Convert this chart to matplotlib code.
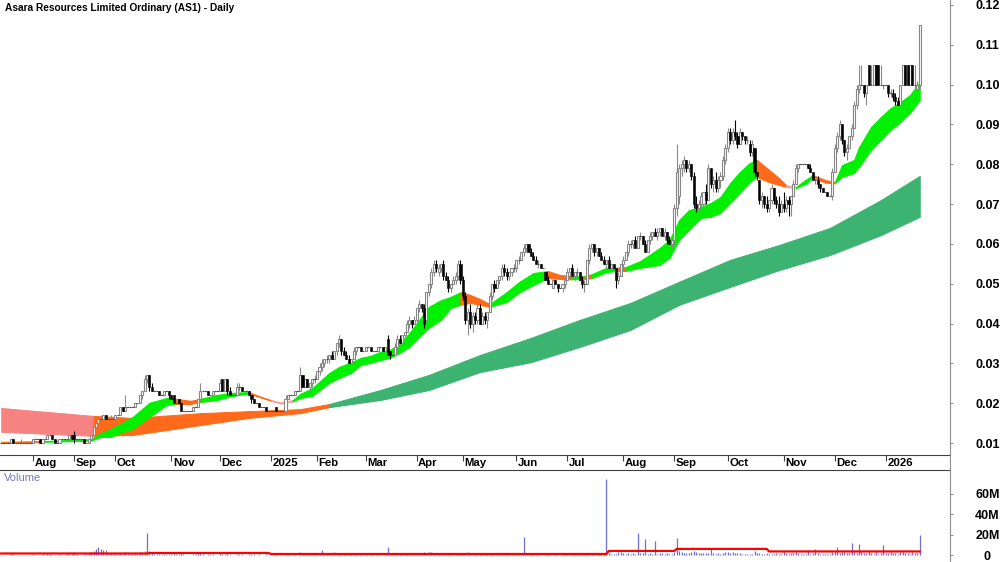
import numpy as np
import matplotlib.pyplot as plt
from matplotlib.lines import Line2D
from matplotlib.transforms import blended_transform_factory

plt.rcParams['font.family'] = ['Liberation Sans', 'DejaVu Sans']

# bars shown per month (first and last month are partial)
bars_per_month = [13, 17, 17, 23, 20, 21, 19, 20, 21, 19, 22, 21, 23, 21, 22, 23, 21, 21, 15]
month_labels = ['Aug', 'Sep', 'Oct', 'Nov', 'Dec', '2025', 'Feb', 'Mar', 'Apr', 'May', 'Jun',
                'Jul', 'Aug', 'Sep', 'Oct', 'Nov', 'Dec', '2026']

# daily prices in tenths of a cent (0.001 $)
opens = [
    10, 10, 10, 10, 10, 11, 10, 10, 10, 10, 10, 10, 10,                                      # Jul 24
    10, 11, 11, 11, 10, 11, 11, 12, 12, 11, 10, 10, 11, 11, 11, 11, 12,                      # Aug
    12, 11, 11, 11, 11, 10, 10, 11, 12, 14, 15, 16, 16, 17, 16, 16, 16,                      # Sep
    16, 17, 17, 19, 18, 19, 19, 19, 19, 20, 20, 22, 23, 26, 27, 24, 23, 23, 23, 22, 22, 23, 23,  # Oct
    22, 22, 20, 21, 20, 18, 18, 18, 18, 18, 19, 19, 21, 23, 23, 23, 22, 22, 23, 23,          # Nov
    23, 26, 23, 26, 23, 22, 22, 22, 24, 24, 23, 23, 23, 22, 21, 20, 20, 19, 19, 19, 18,      # Dec
    18, 18, 19, 18, 18, 18, 18, 21, 22, 22, 22, 23, 23, 27, 24, 26, 24, 25, 26,              # Jan 25
    26, 28, 29, 30, 31, 31, 32, 31, 33, 35, 36, 33, 32, 31, 30, 31, 33, 34, 34, 33,          # Feb
    33, 34, 34, 33, 33, 33, 34, 34, 33, 36, 33, 32, 32, 34, 36, 35, 37, 38, 40, 41, 40,      # Mar
    41, 44, 45, 44, 41, 48, 50, 53, 55, 53, 54, 55, 52, 51, 49, 50, 51, 52, 55,              # Apr
    51, 47, 41, 43, 40, 42, 41, 44, 40, 42, 41, 43, 47, 50, 49, 51, 52, 54, 53, 52, 53, 54,  # May
    54, 56, 56, 58, 59, 60, 58, 57, 56, 55, 55, 54, 53, 51, 50, 49, 51, 50, 49, 49, 50,      # Jun
    51, 53, 54, 52, 53, 53, 51, 50, 50, 56, 59, 60, 58, 59, 57, 56, 55, 56, 54, 55, 54, 51, 52,  # Jul
    55, 56, 58, 60, 60, 61, 59, 62, 62, 60, 58, 61, 62, 63, 62, 63, 64, 62, 63, 61, 60,      # Aug
    61, 69, 72, 79, 80, 81, 79, 80, 77, 70, 69, 70, 70, 73, 71, 79, 75, 76, 74, 76, 77, 81,  # Sep
    84, 88, 86, 88, 87, 85, 88, 87, 86, 85, 83, 84, 78, 76, 71, 72, 70, 69, 71, 74, 71, 70, 68,  # Oct
    70, 69, 71, 70, 72, 75, 79, 80, 80, 80, 80, 79, 78, 76, 76, 75, 74, 73, 73, 72, 72,      # Nov
    78, 84, 87, 90, 86, 83, 84, 87, 89, 95, 99, 100, 100, 98, 105, 100, 100, 105, 105, 100, 100,  # Dec
    100, 100, 98, 98, 97, 96, 95, 100, 105, 105, 100, 105, 100, 99, 100,                     # Jan 26
]
highs = [
    10, 10, 10, 10, 11, 11, 10, 10, 11, 10, 10, 10, 10,
    11, 11, 11, 11, 11, 11, 12, 12, 12, 11, 10, 11, 11, 11, 11, 12, 12,
    13, 11, 11, 11, 11, 10, 11, 12, 14, 15, 16, 17, 17, 17, 16, 17, 16,
    17, 17, 19, 19, 22, 19, 19, 19, 20, 20, 22, 23, 27, 27, 27, 25, 23, 23, 23, 22, 23, 23, 23,
    22, 22, 20, 21, 20, 18, 18, 18, 18, 19, 19, 21, 25, 23, 23, 23, 22, 23, 23, 23,
    26, 26, 26, 26, 24, 22, 22, 25, 25, 24, 23, 23, 23, 22, 21, 20, 20, 19, 19, 19, 18,
    18, 18, 19, 18, 18, 18, 22, 22, 22, 22, 23, 23, 29, 27, 26, 26, 25, 26, 27,
    28, 30, 31, 31, 32, 32, 33, 33, 35, 37, 36, 34, 33, 32, 31, 34, 34, 34, 34, 33,
    34, 34, 34, 33, 33, 34, 34, 34, 34, 37, 33, 32, 35, 37, 37, 37, 38, 41, 42, 41, 42,
    44, 46, 45, 45, 48, 50, 54, 56, 56, 55, 55, 56, 53, 52, 50, 52, 53, 56, 56,
    52, 48, 44, 45, 43, 43, 45, 45, 43, 43, 43, 48, 50, 51, 51, 52, 55, 55, 54, 53, 54, 55,
    56, 57, 58, 60, 60, 60, 59, 58, 57, 56, 55, 54, 53, 52, 50, 51, 51, 50, 49, 50, 51,
    54, 54, 55, 53, 54, 53, 52, 51, 56, 60, 60, 60, 59, 59, 58, 57, 56, 57, 55, 55, 54, 53, 55,
    57, 58, 61, 61, 61, 62, 62, 63, 62, 61, 61, 63, 63, 64, 64, 64, 64, 64, 63, 62, 61,
    70, 85, 80, 81, 82, 81, 81, 80, 78, 72, 71, 73, 73, 75, 80, 79, 77, 78, 77, 78, 82, 85,
    89, 89, 89, 91, 88, 89, 88, 87, 87, 86, 86, 84, 78, 76, 73, 72, 72, 71, 75, 74, 72, 72, 71,
    73, 72, 72, 72, 76, 80, 80, 80, 80, 80, 80, 80, 78, 77, 77, 75, 74, 73, 73, 72, 79,
    85, 88, 91, 90, 86, 85, 87, 90, 96, 100, 105, 105, 100, 100, 105, 105, 105, 105, 105, 105, 100,
    100, 100, 99, 99, 98, 97, 100, 105, 105, 105, 105, 105, 105, 101, 115,
]
lows = [
    10, 10, 10, 10, 10, 10, 10, 10, 10, 10, 10, 10, 10,
    10, 11, 11, 10, 10, 11, 11, 12, 11, 10, 10, 10, 11, 11, 11, 11, 11,
    10, 11, 11, 11, 10, 10, 10, 11, 12, 14, 15, 16, 16, 16, 16, 16, 16,
    16, 17, 17, 18, 18, 19, 19, 19, 19, 20, 20, 21, 23, 25, 23, 23, 23, 23, 22, 22, 22, 23, 21,
    21, 20, 20, 20, 18, 18, 18, 18, 18, 18, 19, 19, 21, 23, 23, 22, 22, 22, 23, 23,
    23, 23, 23, 22, 22, 22, 22, 22, 23, 23, 23, 23, 22, 20, 20, 20, 19, 19, 19, 18, 18,
    18, 18, 18, 18, 18, 18, 18, 21, 22, 22, 22, 23, 23, 24, 24, 24, 23, 24, 25,
    26, 27, 28, 29, 30, 30, 31, 31, 32, 34, 32, 32, 31, 30, 30, 31, 32, 34, 33, 33,
    33, 34, 33, 33, 33, 33, 34, 33, 33, 32, 31, 32, 32, 34, 35, 35, 36, 38, 39, 39, 40,
    40, 43, 43, 39, 41, 47, 49, 52, 53, 52, 53, 51, 51, 48, 48, 50, 50, 51, 50,
    46, 40, 37, 39, 38, 40, 40, 40, 40, 40, 39, 43, 46, 48, 49, 50, 51, 52, 51, 51, 52, 53,
    53, 55, 56, 57, 58, 58, 57, 56, 55, 54, 54, 54, 51, 50, 50, 49, 50, 48, 49, 48, 49,
    51, 52, 52, 51, 52, 51, 49, 48, 50, 55, 58, 57, 57, 57, 56, 55, 54, 54, 53, 54, 49, 50, 52,
    54, 56, 57, 59, 59, 59, 59, 61, 60, 58, 58, 60, 61, 62, 61, 62, 62, 61, 60, 60, 59,
    60, 67, 70, 77, 78, 78, 78, 76, 69, 68, 67, 69, 67, 70, 71, 74, 73, 73, 73, 74, 76, 80,
    83, 85, 85, 86, 84, 85, 86, 85, 85, 82, 82, 77, 76, 70, 69, 69, 68, 68, 70, 70, 69, 67, 68,
    68, 68, 67, 67, 72, 75, 78, 80, 80, 80, 79, 78, 76, 75, 74, 73, 73, 73, 72, 72, 71,
    78, 83, 86, 85, 82, 81, 84, 86, 89, 94, 98, 100, 97, 95, 100, 100, 100, 100, 100, 100, 99,
    100, 97, 97, 96, 95, 95, 95, 100, 100, 100, 100, 100, 99, 98, 99,
]
closes = [
    10, 10, 10, 10, 11, 10, 10, 10, 10, 10, 10, 10, 10,
    11, 11, 11, 10, 11, 11, 12, 12, 11, 10, 10, 11, 11, 11, 11, 12, 11,
    11, 11, 11, 11, 10, 10, 11, 12, 14, 15, 16, 16, 17, 16, 16, 16, 16,
    17, 17, 19, 18, 19, 19, 19, 19, 20, 20, 22, 23, 26, 27, 24, 23, 23, 23, 22, 22, 23, 23, 22,
    21, 20, 20, 20, 18, 18, 18, 18, 18, 19, 19, 21, 23, 23, 23, 22, 22, 23, 23, 23,
    25, 23, 26, 23, 22, 22, 22, 24, 24, 23, 23, 23, 22, 21, 20, 20, 19, 19, 19, 18, 18,
    18, 18, 18, 18, 18, 18, 21, 22, 22, 22, 23, 23, 27, 24, 26, 24, 25, 26, 26,
    28, 29, 30, 31, 31, 32, 31, 33, 35, 36, 33, 32, 31, 30, 31, 33, 34, 34, 33, 33,
    34, 34, 33, 33, 33, 34, 34, 33, 34, 32, 32, 32, 34, 36, 35, 37, 38, 40, 41, 40, 41,
    44, 45, 44, 40, 48, 50, 53, 55, 54, 54, 55, 52, 51, 49, 50, 51, 52, 55, 51,
    47, 41, 43, 40, 42, 41, 44, 40, 42, 41, 43, 47, 50, 49, 51, 52, 54, 53, 52, 53, 54, 54,
    56, 56, 58, 59, 60, 58, 57, 56, 55, 55, 54, 54, 51, 50, 50, 51, 50, 49, 49, 50, 51,
    53, 54, 52, 53, 53, 51, 50, 50, 56, 59, 60, 58, 59, 57, 56, 55, 56, 54, 55, 54, 51, 52, 55,
    56, 58, 60, 60, 61, 59, 62, 62, 60, 58, 61, 62, 63, 62, 63, 64, 62, 63, 61, 60, 61,
    69, 78, 79, 80, 81, 79, 80, 77, 70, 69, 70, 72, 73, 71, 79, 75, 76, 74, 76, 77, 81, 84,
    88, 86, 88, 87, 85, 88, 87, 86, 86, 83, 85, 78, 77, 71, 72, 70, 69, 71, 74, 71, 70, 68, 70,
    69, 71, 70, 72, 75, 79, 80, 80, 80, 80, 79, 78, 76, 76, 75, 74, 73, 73, 72, 72, 78,
    84, 87, 90, 86, 83, 84, 87, 89, 95, 99, 100, 100, 98, 100, 100, 100, 105, 100, 100, 100, 100,
    100, 98, 98, 97, 96, 95, 100, 105, 100, 100, 105, 100, 100, 100, 115,
]
# daily volume, millions of shares
volumes = [
    0.3, 0.2, 0.4, 0.3, 0.8, 0.5, 0.2, 0.3, 0.2, 0.4, 0.3, 0.2, 0.3,
    0.5, 0.3, 0.2, 0.4, 0.6, 0.3, 1.2, 0.9, 0.4, 0.3, 0.2, 0.5, 0.4, 0.3, 0.6, 1.0, 0.5,
    3.0, 0.8, 0.4, 0.3, 1.2, 0.6, 1.5, 2.5, 4.0, 5.5, 7.5, 6.0, 4.5, 5.0, 2.0, 1.5, 1.0,
    1.5, 0.8, 2.0, 1.0, 2.5, 0.8, 0.6, 0.5, 1.5, 0.7, 2.5, 3.0, 3.5, 22.0, 4.0, 1.5, 0.8, 0.5, 1.0, 0.6, 0.8, 0.5, 1.2,
    1.0, 1.5, 0.6, 0.8, 2.0, 0.5, 0.3, 0.3, 0.4, 0.8, 0.5, 1.5, 3.0, 0.6, 0.4, 0.8, 0.5, 1.0, 0.4, 0.3,
    1.5, 1.2, 1.0, 1.5, 0.8, 0.4, 0.3, 1.2, 0.8, 0.6, 0.3, 0.4, 0.5, 1.0, 0.8, 0.4, 0.9, 0.3, 0.3, 0.5, 0.4,
    0.3, 0.4, 0.8, 0.3, 0.2, 0.3, 1.5, 0.8, 0.4, 0.3, 1.0, 0.4, 2.5, 1.5, 1.0, 0.8, 0.9, 1.2, 0.8,
    1.0, 1.2, 5.0, 1.5, 1.0, 1.2, 0.8, 3.0, 1.5, 2.0, 1.8, 1.2, 1.0, 0.8, 0.6, 1.0, 0.8, 0.4, 0.6, 0.4,
    0.5, 0.4, 0.6, 0.3, 0.4, 0.6, 0.4, 0.3, 0.8, 8.0, 1.5, 0.6, 1.2, 1.5, 1.0, 1.5, 1.2, 2.0, 1.5, 1.0, 1.5,
    2.0, 1.5, 1.0, 2.5, 2.0, 2.5, 3.0, 2.0, 1.5, 1.2, 1.0, 1.5, 1.2, 1.5, 0.8, 0.8, 1.0, 2.0, 1.5,
    1.5, 2.0, 2.5, 1.5, 1.2, 0.8, 1.0, 1.0, 0.8, 0.6, 0.8, 1.5, 1.5, 0.8, 0.6, 0.8, 1.2, 0.8, 0.6, 0.5, 0.6, 0.8,
    0.8, 1.0, 1.5, 18.0, 1.2, 1.0, 0.8, 0.6, 0.5, 0.6, 0.4, 0.3, 0.8, 0.6, 0.5, 0.4, 0.6, 0.3, 0.4, 0.5, 0.6,
    0.8, 0.6, 0.5, 0.6, 0.5, 0.8, 0.6, 0.5, 1.5, 2.0, 1.0, 0.8, 0.6, 0.5, 0.8, 0.6, 75.0, 1.5, 1.0, 0.8, 1.2, 2.5, 3.0,
    1.5, 1.2, 2.0, 1.0, 1.5, 1.2, 22.0, 1.5, 2.0, 16.0, 1.0, 1.5, 1.2, 14.0, 1.0, 1.5, 2.0, 1.2, 1.5, 1.0, 1.2,
    3.0, 17.0, 4.0, 2.5, 2.0, 1.5, 2.0, 2.5, 4.0, 2.5, 2.0, 1.5, 2.0, 1.5, 1.5, 7.0, 1.5, 1.0, 1.5, 1.2, 2.0, 3.0,
    3.0, 2.0, 2.5, 2.0, 1.5, 1.5, 1.0, 1.2, 1.0, 0.8, 1.0, 3.5, 2.0, 1.5, 1.0, 1.2, 1.5, 1.0, 0.8, 1.0, 1.5, 1.2, 1.0,
    4.0, 1.5, 1.2, 1.5, 2.0, 2.5, 1.5, 0.8, 0.6, 0.8, 5.0, 1.0, 1.5, 6.0, 1.5, 1.0, 1.2, 0.8, 0.6, 0.8, 3.0,
    3.0, 8.0, 2.0, 3.0, 2.5, 1.5, 2.0, 12.0, 3.0, 2.0, 11.0, 2.5, 1.5, 2.0, 4.0, 1.5, 1.2, 3.5, 1.0, 2.0, 10.0,
    2.0, 1.5, 2.5, 1.5, 2.0, 1.2, 3.0, 2.5, 1.5, 2.0, 1.0, 3.0, 1.5, 2.0, 20.0,
]
# red volume average line, read at these bars
vol_avg_bars = [0, 60, 61, 110, 111, 249, 250, 277, 278, 315, 316, 378]
vol_avg = [1.5, 1.5, 2.0, 2.0, 1.0, 1.0, 4.0, 4.0, 6.0, 6.0, 3.5, 3.5]

# short-term moving average ribbon, edges read at these bars (0.001 $)
short_bars = [0, 18, 37, 41, 45, 49, 54, 61, 68, 72, 78, 82, 89, 95, 102, 106, 111, 115, 120, 123,
              128, 135, 139, 144, 148, 152, 156, 160, 164, 168, 172, 176, 181, 185, 189, 193, 197, 201, 208, 213,
              219, 225, 230, 235, 240, 243, 249, 253, 257, 263, 271, 275, 279, 283, 288, 292, 296, 300, 304, 308,
              311, 316, 320, 323, 327, 331, 334, 339, 343, 346, 351, 353, 358, 362, 366, 370, 374, 378]
short_top = [10.3, 10.5, 11.0, 12.5, 13.5, 14.8, 16.5, 20.1, 21.3, 21.1, 20.6, 21.1, 22.1, 22.6, 22.8, 21.8, 20.8, 20.2, 20.8, 22.3,
             23.8, 27.6, 29.1, 30.3, 31.4, 31.9, 32.9, 33.4, 35.1, 37.6, 40.9, 44.2, 45.9, 46.7, 47.9, 47.2, 46.2, 44.9, 47.9, 50.4,
             52.7, 53.2, 52.2, 51.9, 51.9, 52.4, 54.0, 54.0, 54.2, 55.7, 59.0, 61.0, 66.0, 68.5, 69.3, 70.3, 71.8, 75.3, 78.1, 80.3,
             81.1, 78.6, 76.6, 74.8, 74.3, 76.1, 77.3, 76.1, 75.5, 79.8, 81.1, 84.3, 89.4, 91.9, 94.1, 95.6, 97.4, 100.7]
short_bot = [10.0, 10.3, 10.6, 11.5, 11.5, 12.5, 13.5, 16.5, 19.5, 19.8, 19.8, 20.3, 20.8, 21.8, 22.4, 21.6, 20.6, 19.9, 20.4, 21.3,
             21.8, 25.1, 26.3, 27.6, 29.6, 30.1, 30.8, 31.4, 32.6, 34.1, 36.6, 38.9, 40.9, 43.9, 44.7, 45.2, 44.7, 44.2, 45.4, 47.7,
             49.7, 51.4, 51.2, 51.1, 51.2, 51.4, 52.9, 53.2, 53.2, 54.0, 54.7, 56.5, 61.0, 63.5, 66.5, 66.8, 67.8, 70.3, 72.8, 75.5,
             76.8, 75.5, 74.8, 74.3, 74.0, 75.0, 76.6, 75.4, 75.2, 76.8, 77.8, 79.3, 83.6, 86.1, 88.6, 90.6, 92.9, 96.1]
# colour of each ribbon piece: g rising, o falling, p flat
short_col = list("o" "gggggggg" "oo" "ggg" "oo" "pp" "gggggggggggggggg" "ooo" "gggg" "oo" "g" "o" "gg" "o"
                 "gggggggggggg" "ooo" "p" "gg" "oo" "ggggggggg")

# long-term ribbon
long_bars = [0, 38, 54, 82, 102, 123, 135, 156, 176, 197, 218, 238, 259, 279, 300, 320, 341, 362, 378]
long_top = [18.8, 16.8, 16.3, 17.5, 18.0, 18.5, 19.8, 23.3, 27.1, 32.1, 36.4, 40.9, 45.2, 50.5, 56.0, 59.7, 64.0, 71.0, 77.1]
long_bot = [12.8, 11.8, 12.0, 14.5, 16.3, 17.5, 19.0, 20.8, 23.3, 27.8, 30.3, 34.1, 38.4, 44.7, 49.2, 53.4, 57.2, 62.2, 66.8]
long_col = list("p" "ooooo" "gggggggggggg")

short_colors = {'g': '#00f000', 'o': '#ff6a1a', 'p': '#f6a49c'}
long_colors = {'g': '#3cb371', 'o': '#ff6a1a', 'p': '#f68282'}

o = np.array(opens) / 1000
h = np.array(highs) / 1000
l = np.array(lows) / 1000
c = np.array(closes) / 1000
vol = np.array(volumes)
x = np.arange(len(c))

# layout in pixels: 2.43 px per bar, right axis at 950 px
px_bar = 2.43
x_left = -1.2 / px_bar
x_right = (950 - 1.2) / px_bar

fig = plt.figure(figsize=(10, 5.62), dpi=100)
ax = fig.add_axes([0, 1 - 455 / 562, 0.95, 455 / 562])
axv = fig.add_axes([0, 0, 0.95, 92 / 562])


def ribbon(axis, bars, top, bot, cols, cmap):
    for k in range(len(bars) - 1):
        col = cmap[cols[k]]
        axis.fill_between(bars[k:k + 2], np.array(bot[k:k + 2]) / 1000, np.array(top[k:k + 2]) / 1000,
                          facecolor=col, edgecolor=col, linewidth=0.7, zorder=1)


ribbon(ax, long_bars, long_top, long_bot, long_col, long_colors)
ribbon(ax, short_bars, short_top, short_bot, short_col, short_colors)

# candles
up = c > o
down = c < o
flat = c == o
ax.vlines(x[up | flat], l[up | flat], h[up | flat], color='#8a8a8a', linewidth=0.8, zorder=3)
ax.vlines(x[down], l[down], h[down], color='black', linewidth=0.8, zorder=3)
ax.bar(x[up], c[up] - o[up], bottom=o[up], width=0.85, facecolor='white', edgecolor='#888888',
       linewidth=0.8, zorder=4)
ax.bar(x[down], o[down] - c[down], bottom=c[down], width=0.85, facecolor='black', edgecolor='black',
       linewidth=0.4, zorder=4)
ax.hlines(c[flat], x[flat] - 0.5, x[flat] + 0.5, color='#505050', linewidth=0.8, zorder=4)

ax.set_xlim(x_left, x_right)
ax.set_ylim(0.01 - 12 / 3982, 0.12 + 5 / 3982)

ax.spines['top'].set_visible(False)
ax.spines['left'].set_visible(False)
ax.spines['right'].set_color('#909090')
ax.spines['bottom'].set_color('#404040')

price_ticks = [0.01, 0.02, 0.03, 0.04, 0.05, 0.06, 0.07, 0.08, 0.09, 0.10, 0.11, 0.12]
ax.yaxis.tick_right()
ax.set_yticks(price_ticks)
ax.set_yticklabels([f'{t:.2f}' for t in price_ticks], fontweight='bold')
ax.tick_params(axis='y', length=2, width=0.8, color='#909090', pad=25, labelsize=9)
for lbl in ax.get_yticklabels():
    lbl.set_horizontalalignment('center')

month_start = np.cumsum(bars_per_month)[:-1]
ax.set_xticks(month_start)
ax.set_xticklabels([])
ax.tick_params(axis='x', length=4, width=0.8, color='#404040', direction='out')
trans = blended_transform_factory(ax.transData, ax.transAxes)
for pos, lab in zip(month_start, month_labels):
    ax.text(pos + 0.6, -8 / 455, lab, transform=trans, ha='left', va='center',
            fontsize=8.2, fontweight='bold')

fig.text(5 / 1000, 1 - 8 / 562, 'Asara Resources Limited Ordinary (AS1) - Daily',
         ha='left', va='center', fontsize=7.3, fontweight='bold')

# volume panel
axv.vlines(x, 0, vol, color='#6f6fd6', linewidth=0.9)
axv.plot(vol_avg_bars, vol_avg, color='#ff0000', linewidth=1.6)
axv.set_xlim(x_left, x_right)
axv.set_ylim(-7 / 1.0167, 85 / 1.0167)
axv.spines['left'].set_visible(False)
axv.spines['bottom'].set_visible(False)
axv.spines['right'].set_color('#909090')
axv.spines['top'].set_color('#404040')
axv.set_xticks([])
axv.yaxis.tick_right()
axv.set_yticks([0, 20, 40, 60])
axv.set_yticklabels(['0', '20M', '40M', '60M'], fontweight='bold')
axv.tick_params(axis='y', length=2, width=0.8, color='#909090', pad=25, labelsize=9)
for lbl in axv.get_yticklabels():
    lbl.set_horizontalalignment('center')
fig.text(4 / 1000, 1 - 478 / 562, 'Volume', ha='left', va='center', fontsize=8, color='#7878c4')

# right axis line runs through the gap between the panels
fig.add_artist(Line2D([0.95, 0.95], [1 - 470 / 562, 1 - 455 / 562], color='#909090', linewidth=0.8))

fig.savefig('out.png', dpi=100)
